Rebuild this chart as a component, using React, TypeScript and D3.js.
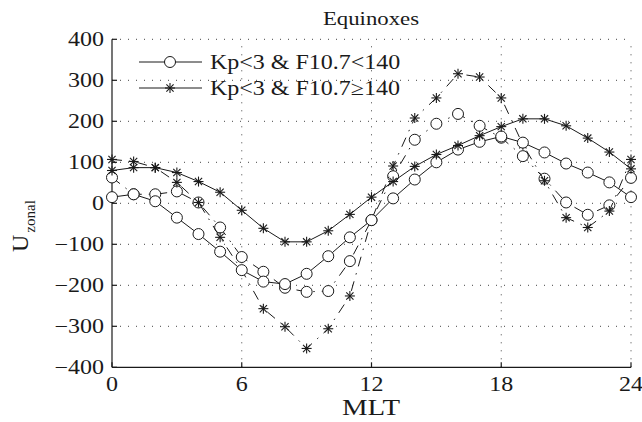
import React from "react";
import * as d3 from "d3";

const hours = d3.range(0, 25);
const lowF_solid = [15, 22, 5, -35, -75, -118, -163, -191, -197, -172, -129, -83, -41, 12, 58, 100, 131, 150, 163, 148, 124, 97, 75, 51, 15];
const highF_solid = [80, 87, 87, 75, 53, 27, -17, -61, -94, -94, -67, -27, 15, 53, 90, 119, 141, 165, 187, 206, 206, 189, 159, 125, 84];
const lowF_dash = [63, 22, 22, 29, 2, -59, -131, -167, -206, -216, -214, -141, -41, 66, 155, 194, 218, 189, 160, 115, 60, 2, -28, -5, 62];
const highF_dash = [107, 102, 87, 51, 2, -83, -163, -257, -301, -354, -306, -226, -41, 91, 208, 257, 316, 308, 257, 143, 55, -35, -59, -19, 107];

const xTicks = [0, 6, 12, 18, 24];
const yTicks = [-400, -300, -200, -100, 0, 100, 200, 300, 400];
const legendLabels = ["Kp<3 & F10.7<140", "Kp<3 & F10.7\u2265140"];

const W = 642, H = 422;
const x = d3.scaleLinear().domain([0, 24]).range([112, 631]);
const y = d3.scaleLinear().domain([-400, 400]).range([367.3, 39.3]);
const FONT = "'Liberation Serif', 'Times New Roman', 'DejaVu Serif', serif";
const INK = "#1a1a1a";
const SX = 1.2;

function T({ x, y, size, anchor, children, sx = SX }: { x: number; y: number; size: number; anchor?: string; children: any; sx?: number }) {
  return (
    <g transform={`translate(${x},${y}) scale(${sx},1)`}>
      <text x={0} y={0} dy="0.35em" textAnchor={anchor || "start"} fill={INK} style={{ fontFamily: FONT, fontSize: size }}>
        {children}
      </text>
    </g>
  );
}

function Circle({ cx, cy }: { cx: number; cy: number }) {
  return <circle cx={cx} cy={cy} r={5.5} fill="white" stroke={INK} strokeWidth={1} />;
}
function Star({ cx, cy }: { cx: number; cy: number }) {
  const r = 5;
  const d = r * 0.72;
  return (
    <g stroke={INK} strokeWidth={1.1}>
      <line x1={cx - r} y1={cy} x2={cx + r} y2={cy} />
      <line x1={cx} y1={cy - r} x2={cx} y2={cy + r} />
      <line x1={cx - d} y1={cy - d} x2={cx + d} y2={cy + d} />
      <line x1={cx - d} y1={cy + d} x2={cx + d} y2={cy - d} />
    </g>
  );
}

const line = d3.line<number>().x((_, i) => x(hours[i])).y((v) => y(v));

function Series({ data, marker, dashed }: { data: number[]; marker: "o" | "*"; dashed: boolean }) {
  return (
    <g>
      <path d={line(data) || ""} fill="none" stroke={INK} strokeWidth={1} strokeDasharray={dashed ? "10,7,1.5,7" : undefined} />
      {data.map((v, i) =>
        marker === "o" ? <Circle key={i} cx={x(hours[i])} cy={y(v)} /> : <Star key={i} cx={x(hours[i])} cy={y(v)} />
      )}
    </g>
  );
}

export default function App() {
  const [x0, x1] = x.range();
  const [y0, y1] = y.range();
  return (
    <svg width={W} height={H} style={{ position: "absolute", left: 0, top: 0, background: "white" }}>
      <rect width={W} height={H} fill="white" />
      {/* grid */}
      <g stroke="#444" strokeWidth={1} strokeDasharray="1,7">
        {xTicks.filter((t) => t !== 0).map((t) => (
          <line key={"gx" + t} x1={x(t)} x2={x(t)} y1={y0} y2={y1} />
        ))}
        {yTicks.filter((t) => t !== -400).map((t) => (
          <line key={"gy" + t} x1={x0} x2={x1} y1={y(t)} y2={y(t)} />
        ))}
      </g>
      {/* axes */}
      <g stroke={INK} strokeWidth={1.2}>
        <line x1={x0} x2={x0} y1={y0} y2={y1} />
        <line x1={x0} x2={x1} y1={y0} y2={y0} />
        {yTicks.map((t) => (
          <line key={"ty" + t} x1={x0} x2={x0 + 5} y1={y(t)} y2={y(t)} />
        ))}
        {xTicks.map((t) => (
          <line key={"tx" + t} x1={x(t)} x2={x(t)} y1={y0} y2={y0 - 5} />
        ))}
      </g>
      {/* tick labels */}
      {yTicks.map((t) => (
        <T key={"ly" + t} x={x0 - 8} y={y(t)} size={20} anchor="end">
          {t < 0 ? "\u2212" + Math.abs(t) : String(t)}
        </T>
      ))}
      {xTicks.map((t) => (
        <T key={"lx" + t} x={x(t)} y={y0 + 17} size={20} anchor="middle">
          {String(t)}
        </T>
      ))}
      {/* series */}
      <Series data={lowF_dash} marker="o" dashed={true} />
      <Series data={highF_dash} marker="*" dashed={true} />
      <Series data={lowF_solid} marker="o" dashed={false} />
      <Series data={highF_solid} marker="*" dashed={false} />
      {/* titles */}
      <T x={371} y={18} size={19} anchor="middle">Equinoxes</T>
      <T x={371} y={407} size={24} anchor="middle">MLT</T>
      <g transform="translate(28,252) rotate(-90)">
        <text x={0} y={0} fill={INK} style={{ fontFamily: FONT, fontSize: 24 }}>
          U<tspan style={{ fontSize: 15 }} dy={7} dx={2}>zonal</tspan>
        </text>
      </g>
      {/* legend */}
      {legendLabels.map((lab, i) => {
        const ly = 62 + i * 26;
        return (
          <g key={lab}>
            <line x1={139} x2={202} y1={ly} y2={ly} stroke={INK} strokeWidth={1} />
            {i === 0 ? <Circle cx={170} cy={ly} /> : <Star cx={170} cy={ly} />}
            <T x={210} y={ly} size={20}>{lab}</T>
          </g>
        );
      })}
    </svg>
  );
}
